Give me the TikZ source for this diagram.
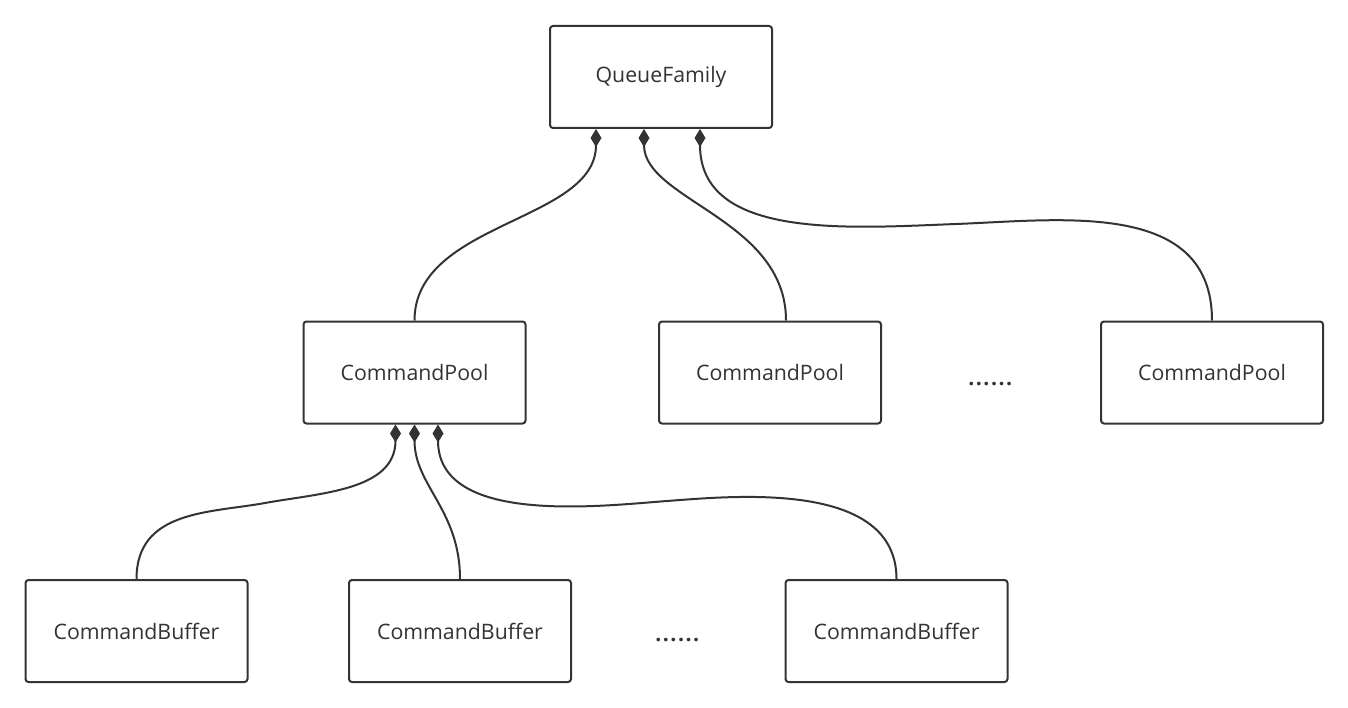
\documentclass[tikz,border=0pt]{standalone}
\usepackage{fontspec}
\setmainfont{Open Sans}
\usetikzlibrary{arrows.meta,calc}
\definecolor{ink}{HTML}{333333}
\begin{document}
\begin{tikzpicture}[x=1pt,y=-1pt,
  box/.style={draw=ink, line width=2pt, rounded corners=3pt, fill=white,
    minimum width=222pt, minimum height=102pt, inner sep=0pt, text=ink,
    font=\fontsize{21.3}{25}\selectfont},
  comp/.style={draw=ink, line width=2pt, {Diamond[length=18pt,width=11pt]}-},
  dotsty/.style={text=ink, anchor=base, inner sep=0pt,
    font=\fontsize{21.3}{25}\selectfont\addfontfeature{LetterSpace=7}}]
\fill[white] (0,0) rectangle (1348,708);
\useasboundingbox (0,0) rectangle (1348,708);

\node[box] (qf)  at (661,77)      {QueueFamily};
\node[box] (cp1) at (414.5,372.5) {CommandPool};
\node[box] (cp2) at (770,372.5)   {CommandPool};
\node[box] (cp3) at (1212,372.5)  {CommandPool};
\node[box] (cb1) at (136.5,631)   {CommandBuffer};
\node[box] (cb2) at (460,631)     {CommandBuffer};
\node[box] (cb3) at (896.5,631)   {CommandBuffer};
\node[dotsty] (d1) at (991,385) {\textbf{......}};
\node[dotsty] (d2) at (678,641) {\textbf{......}};

\coordinate (q1) at ($(qf.south)+(-65,0)$);
\coordinate (q2) at ($(qf.south)+(-17,0)$);
\coordinate (q3) at ($(qf.south)+(39,0)$);
\coordinate (p2) at ($(cp2.north)+(16,0)$);
\coordinate (c1) at ($(cp1.south)+(-19,0)$);
\coordinate (c2) at (cp1.south);
\coordinate (c3) at ($(cp1.south)+(23.5,0)$);

\draw[comp] (q1) .. controls +(0,93) and +(0,-99) .. (cp1.north);
\draw[comp] (q2) .. controls +(0,71) and +(0,-101) .. (p2);
\draw[comp] (q3) .. controls +(0,111) and +(-106,4) .. (956,224)
  .. controls +(106,-4) and +(0,-121) .. (cp3.north);

\draw[comp] (c1) .. controls +(0,66) and +(55,-10) .. (265,503)
  .. controls +(-55,10) and +(0,-69) .. (cb1.north);
\draw[comp] (c2) .. controls +(0,61) and +(0,-69) .. (cb2.north);
\draw[comp] (c3) .. controls +(0,101) and +(-67,5) .. (667,501)
  .. controls +(67,-5) and +(0,-99) .. (cb3.north);
\end{tikzpicture}
\end{document}
